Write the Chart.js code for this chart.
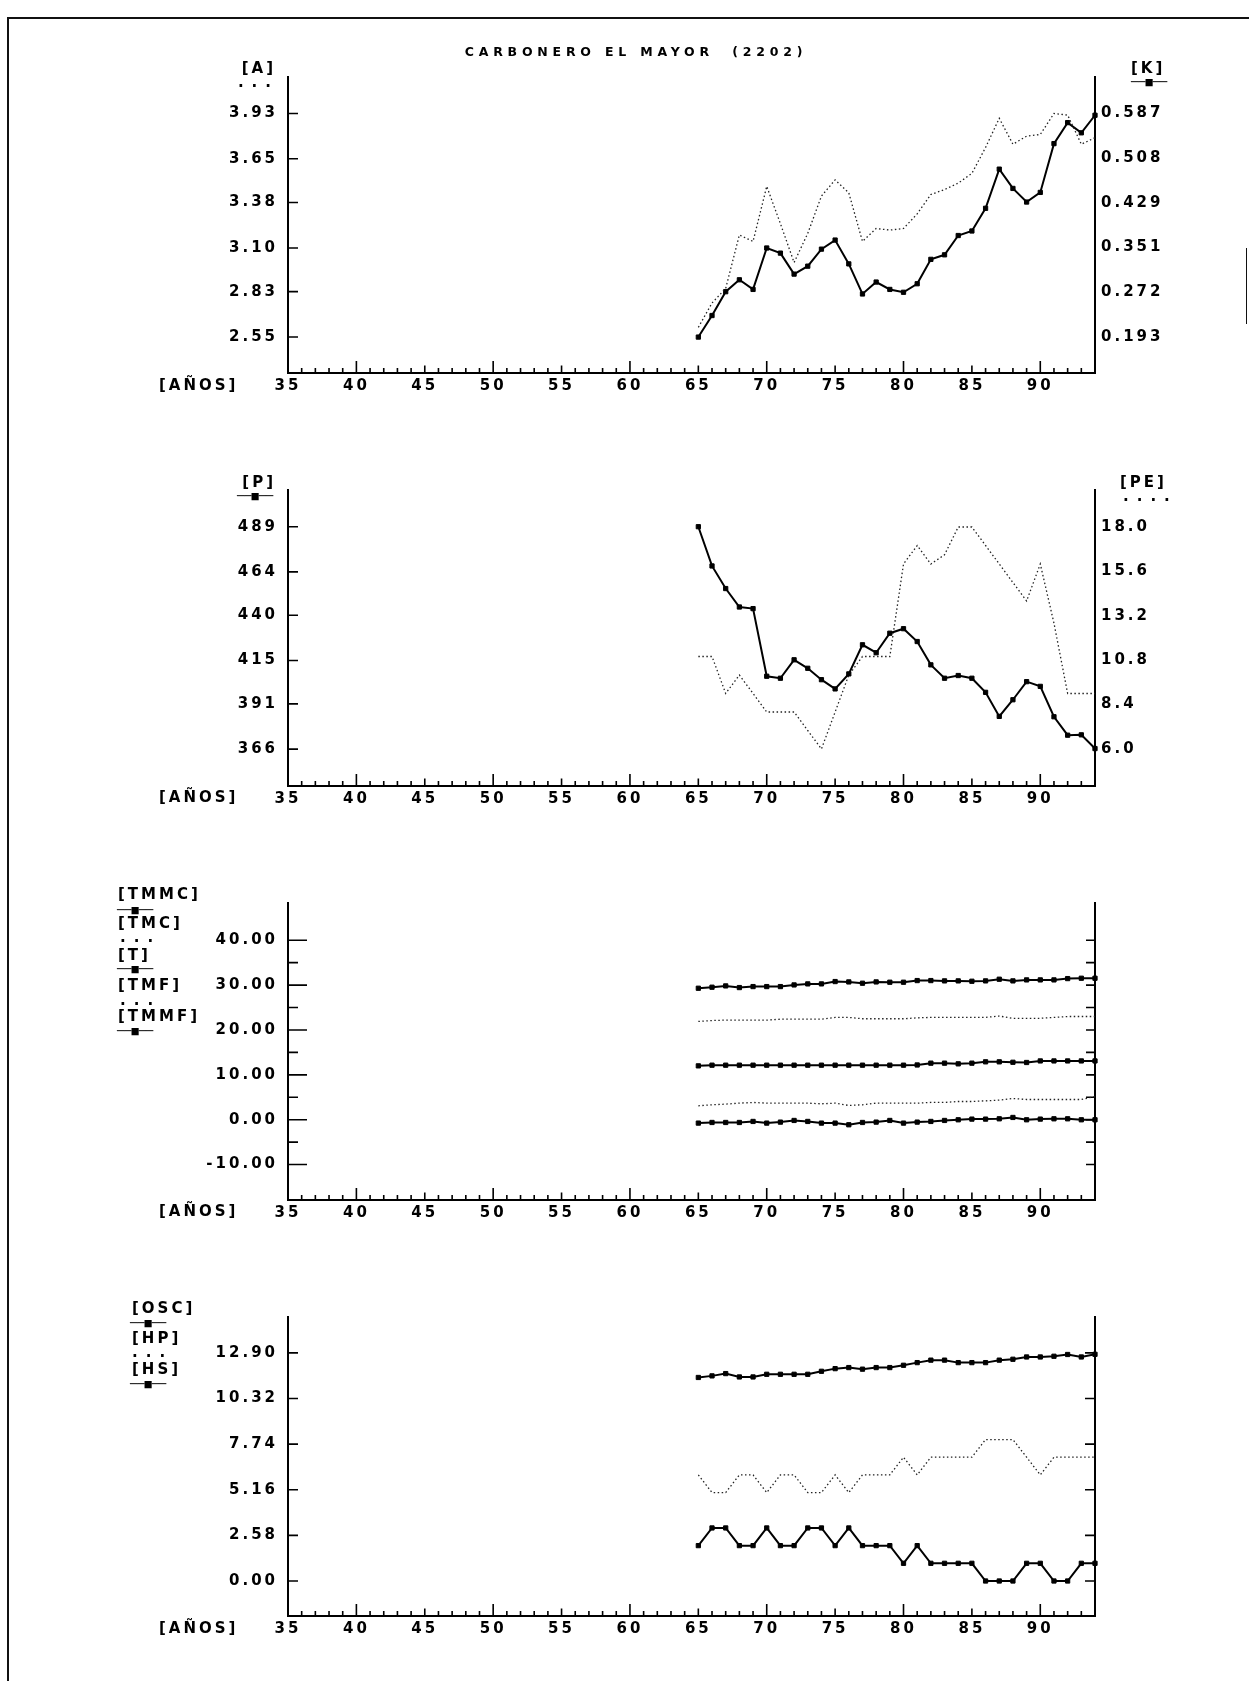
<!DOCTYPE html>
<html><head><meta charset="utf-8">
<script src="https://cdn.jsdelivr.net/npm/chart.js@4/dist/chart.umd.min.js"></script>
<style>
html,body{margin:0;padding:0;background:#fff;}
#page{position:relative;width:1249px;height:1681px;overflow:hidden;background:#fff;}
canvas{position:absolute;left:0;}
.t{position:absolute;font-family:"DejaVu Sans",sans-serif;font-weight:bold;font-size:15px;letter-spacing:3px;color:#000;white-space:pre;line-height:1;z-index:5;}
.sym{font-family:"DejaVu Sans Mono",monospace;letter-spacing:0;font-size:12px;font-weight:normal;}
.dots{letter-spacing:8px;}
.title{font-weight:bold;font-size:12.5px;letter-spacing:4.8px;}
.line{position:absolute;background:#111;z-index:6;}
</style></head>
<body><div id="page">
<canvas id="c1"></canvas><canvas id="c2"></canvas><canvas id="c3"></canvas><canvas id="c4"></canvas>
</div>
<script>
// ---------------- data ----------------
const YEARS = [65,66,67,68,69,70,71,72,73,74,75,76,77,78,79,80,81,82,83,84,85,86,87,88,89,90,91,92,93,94];
const X_LABELS = ['35','40','45','50','55','60','65','70','75','80','85','90'];

// Panel 1
const A_VALUES = [2.61,2.76,2.85,3.18,3.14,3.48,3.25,3.01,3.19,3.42,3.52,3.44,3.14,3.22,3.21,3.22,3.31,3.43,3.46,3.50,3.56,3.72,3.90,3.74,3.79,3.80,3.93,3.92,3.74,3.78];
const K_VALUES = [0.193,0.231,0.273,0.294,0.277,0.350,0.341,0.304,0.318,0.348,0.364,0.322,0.269,0.290,0.277,0.272,0.287,0.330,0.338,0.372,0.380,0.420,0.489,0.455,0.431,0.448,0.534,0.571,0.553,0.584];
const A_TICKS = ['2.55','2.83','3.10','3.38','3.65','3.93'];
const K_TICKS = ['0.193','0.272','0.351','0.429','0.508','0.587'];

// Panel 2
const P_VALUES = [489,467.3,454.8,444.6,443.7,406.3,405.2,415.4,410.7,404.4,399.3,407.6,423.7,419.3,430.1,432.6,425.5,412.6,405.2,406.7,405.2,397.4,384.1,393.3,403.3,400.7,383.9,373.7,373.9,366.3];
const PE_VALUES = [11,11,9,10,9,8,8,8,7,6,8,10,11,11,11,16,17,16,16.5,18,18,17,16,15,14,16,12.8,9,9,9];
const P_TICKS = ['366','391','415','440','464','489'];
const PE_TICKS = ['6.0','8.4','10.8','13.2','15.6','18.0'];

// Panel 3
const TMMC_VALUES = [29.30,29.53,29.82,29.45,29.67,29.67,29.67,30.04,30.27,30.27,30.79,30.71,30.42,30.71,30.64,30.64,31.01,31.01,30.94,30.94,30.86,30.94,31.31,30.94,31.16,31.16,31.16,31.45,31.53,31.53];
const TMC_VALUES = [21.9,22.1,22.2,22.2,22.2,22.2,22.4,22.4,22.4,22.4,22.8,22.8,22.5,22.5,22.5,22.5,22.7,22.8,22.8,22.8,22.8,22.8,23.1,22.6,22.6,22.6,22.8,23.0,23.0,23.0];
const T_VALUES = [12.0,12.15,12.15,12.15,12.15,12.15,12.15,12.15,12.15,12.15,12.15,12.15,12.15,12.15,12.15,12.15,12.2,12.6,12.6,12.45,12.6,12.9,12.9,12.8,12.75,13.1,13.1,13.1,13.1,13.1];
const TMF_VALUES = [3.10,3.32,3.47,3.69,3.84,3.69,3.69,3.69,3.69,3.54,3.69,3.17,3.32,3.69,3.69,3.69,3.69,3.84,3.84,4.06,4.06,4.20,4.36,4.73,4.50,4.50,4.50,4.50,4.50,5.17];
const TMMF_VALUES = [-0.76,-0.62,-0.62,-0.62,-0.39,-0.76,-0.54,-0.17,-0.39,-0.76,-0.76,-1.13,-0.62,-0.54,-0.17,-0.76,-0.54,-0.39,-0.17,-0.02,0.13,0.13,0.20,0.50,-0.02,0.13,0.20,0.20,-0.02,-0.02];
const T_TICKS = ['-10.00','0.00','10.00','20.00','30.00','40.00'];
const T_MINOR = [-5,5,15,25,35];

// Panel 4
const OSC_VALUES = [11.51,11.60,11.73,11.54,11.54,11.69,11.69,11.69,11.69,11.86,12.01,12.07,11.98,12.07,12.07,12.20,12.35,12.49,12.49,12.35,12.35,12.35,12.49,12.54,12.67,12.67,12.71,12.81,12.67,12.82];
const HP_VALUES = [6,5,5,6,6,5,6,6,5,5,6,5,6,6,6,7,6,7,7,7,7,8,8,8,7,6,7,7,7,7];
const HS_VALUES = [2,3,3,2,2,3,2,2,3,3,2,3,2,2,2,1,2,1,1,1,1,0,0,0,1,1,0,0,1,1];
const H_TICKS = ['0.00','2.58','5.16','7.74','10.32','12.90'];

// ---------------- helpers ----------------
const TICK_FONT = {family:'"DejaVu Sans", sans-serif', weight:'bold', size:15};
const LS = '3px';
const lsPlugin = {
  id:'ls',
  beforeInit(c){ c.ctx.letterSpacing = LS; },
  beforeUpdate(c){ c.ctx.letterSpacing = LS; },
  beforeLayout(c){ c.ctx.letterSpacing = LS; },
  beforeDraw(c){ c.ctx.letterSpacing = LS; }
};
const inTicks = {
  id:'inTicks',
  beforeDatasetsDraw(chart, args, o){
    const ctx = chart.ctx, a = chart.chartArea, xs = chart.scales.x, ys = chart.scales.y;
    ctx.save();
    ctx.strokeStyle = '#000';
    ctx.lineWidth = 1.6;
    ctx.beginPath();
    for (let yr = Math.round(xs.min) + 1; yr < xs.max; yr++) {
      const len = yr % 10 === 0 ? 12 : (yr % 5 === 0 ? 7.5 : 5);
      const px = xs.getPixelForValue(yr);
      ctx.moveTo(px, a.bottom); ctx.lineTo(px, a.bottom - len);
    }
    const addY = (vals, len, side) => (vals || []).forEach(v => {
      const py = ys.getPixelForValue(v);
      if (side === 'l') { ctx.moveTo(a.left, py); ctx.lineTo(a.left + len, py); }
      else { ctx.moveTo(a.right, py); ctx.lineTo(a.right - len, py); }
    });
    addY(o.lMajor, o.lMajorLen, 'l');
    addY(o.lMinor, o.lMinorLen, 'l');
    addY(o.rMajor, o.rLen, 'r');
    addY(o.rMinor, o.rLen, 'r');
    ctx.stroke();
    ctx.restore();
  }
};
const pts = vals => YEARS.map((yr, i) => ({x: yr, y: vals[i]}));
function solid(label, vals, axis){
  return {label, data: pts(vals), yAxisID: axis, borderColor:'#000', backgroundColor:'#000',
    borderWidth:2, pointStyle:'rect', pointRadius:3, pointBorderWidth:1, tension:0, clip:6};
}
function dotted(label, vals, axis){
  return {label, data: pts(vals), yAxisID: axis, borderColor:'#222', borderWidth:1.3,
    borderDash:[1.5,2.5], pointRadius:0, tension:0, clip:6};
}
function yScale(pos, s, width, pad){
  return {
    type:'linear', position:pos, min:s.min, max:s.max,
    afterBuildTicks: sc => { sc.ticks = s.labels.map(l => ({value: parseFloat(l)})); },
    afterFit: sc => { sc.width = width; },
    grid:{display:false, drawTicks:false},
    border:{display:true, color:'#000', width:2},
    ticks:{display:s.show, autoSkip:false, padding:pad, color:'#000', font:TICK_FONT,
      callback:(v, i) => s.labels[i]}
  };
}
function xScale(h){
  return {
    type:'linear', position:'bottom', min:35, max:94,
    afterBuildTicks: sc => { sc.ticks = X_LABELS.map(l => ({value: +l})); },
    afterFit: sc => { sc.height = h; },
    grid:{display:false, drawTicks:false},
    border:{display:true, color:'#000', width:2},
    ticks:{autoSkip:false, maxRotation:0, padding:4, color:'#000', font:TICK_FONT,
      callback:(v, i) => X_LABELS[i]}
  };
}
function panel(id, top, h, plotTop, plotBottom, datasets, left, right, tickOpts){
  const cv = document.getElementById(id);
  cv.width = 1249; cv.height = h;
  cv.style.width = '1249px'; cv.style.height = h + 'px'; cv.style.top = top + 'px';
  return new Chart(cv, {
    type:'line',
    data:{datasets},
    options:{
      responsive:false, animation:false, devicePixelRatio:1, events:[],
      layout:{padding:{top:plotTop, left:0, right:0, bottom:0}},
      plugins:{legend:{display:false}, tooltip:{enabled:false}, inTicks:tickOpts},
      scales:{ x: xScale(h - plotBottom), y: yScale('left', left, 288, 10), y2: yScale('right', right, 154, 6) }
    },
    plugins:[lsPlugin, inTicks]
  });
}

// ---------------- charts ----------------
panel('c1', 0, 420, 77, 373,
  [dotted('A', A_VALUES, 'y'), solid('K', K_VALUES, 'y2')],
  {min:2.328, max:4.155, labels:A_TICKS, show:true},
  {min:0.1297, max:0.6514, labels:K_TICKS, show:true},
  {lMajor:A_TICKS.map(Number), lMajorLen:10, rMajor:K_TICKS.map(Number), rLen:10});

panel('c2', 420, 410, 70, 366,
  [solid('P', P_VALUES, 'y'), dotted('PE', PE_VALUES, 'y2')],
  {min:345.6, max:509.3, labels:P_TICKS, show:true},
  {min:4.0, max:20.0, labels:PE_TICKS, show:true},
  {lMajor:P_TICKS.map(Number), lMajorLen:10, rMajor:PE_TICKS.map(Number), rLen:10});

panel('c3', 840, 400, 63, 360,
  [solid('TMMC', TMMC_VALUES, 'y'), dotted('TMC', TMC_VALUES, 'y'), solid('T', T_VALUES, 'y'),
   dotted('TMF', TMF_VALUES, 'y'), solid('TMMF', TMMF_VALUES, 'y')],
  {min:-17.9, max:48.3, labels:T_TICKS, show:true},
  {min:-17.9, max:48.3, labels:T_TICKS, show:false},
  {lMajor:T_TICKS.map(Number), lMajorLen:19, lMinor:T_MINOR, lMinorLen:10,
   rMajor:T_TICKS.map(Number), rMinor:T_MINOR, rLen:9});

panel('c4', 1250, 420, 67, 366,
  [solid('OSC', OSC_VALUES, 'y'), dotted('HP', HP_VALUES, 'y'), solid('HS', HS_VALUES, 'y')],
  {min:-1.98, max:14.93, labels:H_TICKS, show:true},
  {min:-1.98, max:14.93, labels:H_TICKS, show:false},
  {lMajor:H_TICKS.map(Number), lMajorLen:10, rMajor:H_TICKS.map(Number), rLen:10});

// ---------------- text labels ----------------
const page = document.getElementById('page');
function txt(s, x, y, align, cls){
  const d = document.createElement('div');
  d.className = 't' + (cls ? ' ' + cls : '');
  d.textContent = s;
  d.style.left = x + 'px'; d.style.top = y + 'px';
  d.style.transform = align === 'r' ? 'translate(-100%,-50%)' : align === 'c' ? 'translate(-50%,-50%)' : 'translate(0,-50%)';
  page.appendChild(d);
}
const SYM = '──■──';
txt('CARBONERO EL MAYOR  (2202)', 636, 52, 'c', 'title');
// panel 1
txt('[A]', 276, 68, 'r'); txt('...', 279, 82, 'r', 'dots');
txt('[K]', 1131, 68, 'l'); txt(SYM, 1131, 82, 'l', 'sym');
txt('[AÑOS]', 159, 385, 'l');
// panel 2
txt('[P]', 276, 482, 'r'); txt(SYM, 237, 496, 'l', 'sym');
txt('[PE]', 1120, 482, 'l'); txt('....', 1123, 496, 'l', 'dots');
txt('[AÑOS]', 159, 797, 'l');
// panel 3
txt('[TMMC]', 118, 894, 'l'); txt(SYM, 117, 910, 'l', 'sym');
txt('[TMC]', 118, 923, 'l'); txt('...', 120, 937, 'l', 'dots');
txt('[T]', 118, 955, 'l'); txt(SYM, 117, 969, 'l', 'sym');
txt('[TMF]', 118, 985, 'l'); txt('...', 120, 1000, 'l', 'dots');
txt('[TMMF]', 118, 1016, 'l'); txt(SYM, 117, 1031, 'l', 'sym');
txt('[AÑOS]', 159, 1211, 'l');
// panel 4
txt('[OSC]', 132, 1308, 'l'); txt(SYM, 130, 1323, 'l', 'sym');
txt('[HP]', 132, 1338, 'l'); txt('...', 132, 1352, 'l', 'dots');
txt('[HS]', 132, 1369, 'l'); txt(SYM, 130, 1384, 'l', 'sym');
txt('[AÑOS]', 159, 1628, 'l');

// page frame
function line(x, y, w, h){
  const d = document.createElement('div'); d.className = 'line';
  d.style.left = x + 'px'; d.style.top = y + 'px'; d.style.width = w + 'px'; d.style.height = h + 'px';
  page.appendChild(d);
}
line(7, 17, 1242, 2);
line(7, 17, 2, 1664);
line(1246, 248, 1, 76);
</script>
</body></html>
